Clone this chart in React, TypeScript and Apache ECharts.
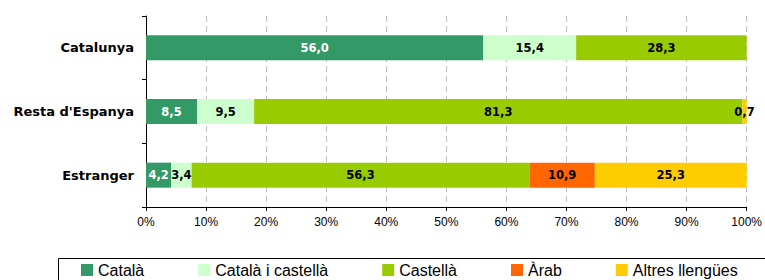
import React, { useEffect, useRef } from "react";
import * as echarts from "echarts";

const categories = ["Catalunya", "Resta d'Espanya", "Estranger"];
const seriesNames = ["Català", "Català i castellà", "Castellà", "Àrab", "Altres llengües"];
const catala = [56.0, 8.5, 4.2];
const catalaCastella = [15.4, 9.5, 3.4];
const castella = [28.3, 81.3, 56.3];
const arab = [null, null, 10.9];
const altres = [null, 0.7, 25.3];
const xTicks = [0, 10, 20, 30, 40, 50, 60, 70, 80, 90, 100];

const colors = ["#339966", "#CCFFCC", "#99CC00", "#FF6600", "#FFCC00"];
const labelColors = ["#ffffff", "#000000", "#000000", "#000000", "#000000"];

export default function App() {
  const ref = useRef<HTMLDivElement>(null);
  useEffect(() => {
    if (!ref.current) return;
    const chart = echarts.init(ref.current, undefined, { renderer: "svg" });
    const all = [catala, catalaCastella, castella, arab, altres];
    const sums = categories.map((_, i) =>
      all.reduce((s, arr) => s + (arr[i] == null ? 0 : (arr[i] as number)), 0)
    );
    const series = all.map((arr, si) => ({
      name: seriesNames[si],
      type: "bar",
      stack: "total",
      barWidth: 25,
      itemStyle: { color: colors[si] },
      label: {
        show: true,
        position: "inside",
        color: labelColors[si],
        fontFamily: "DejaVu Sans",
        fontWeight: "bold",
        fontSize: 11.5,
        formatter: (p: any) =>
          p.data && p.data.raw != null ? p.data.raw.toFixed(1).replace(".", ",") : "",
      },
      data: arr.map((v, i) =>
        v == null ? null : { value: ((v as number) / sums[i]) * 100, raw: v }
      ),
    }));
    chart.setOption({
      animation: false,
      grid: { left: 146, right: 18, top: 16, bottom: 73, containLabel: false },
      xAxis: {
        type: "value",
        min: xTicks[0],
        max: xTicks[xTicks.length - 1],
        interval: 10,
        axisLine: { show: true, lineStyle: { color: "#000", width: 1 } },
        axisTick: { show: true, length: 4, lineStyle: { color: "#000" } },
        axisLabel: {
          formatter: "{value}%",
          color: "#000",
          fontFamily: "Liberation Sans",
          fontSize: 12,
          margin: 9,
        },
        splitLine: {
          show: true,
          lineStyle: { color: "#c0c0c0", type: [6, 4], width: 1 },
        },
      },
      yAxis: {
        type: "category",
        data: categories,
        inverse: true,
        axisLine: { show: true, lineStyle: { color: "#000", width: 1 } },
        axisTick: { show: true, length: 4, lineStyle: { color: "#000" } },
        axisLabel: {
          color: "#000",
          fontFamily: "DejaVu Sans",
          fontWeight: "bold",
          fontSize: 13,
          margin: 12,
        },
      },
      legend: {
        data: seriesNames,
        left: 81,
        top: 262,
        padding: 0,
        itemWidth: 12,
        itemHeight: 12,
        itemGap: 54,
        icon: "rect",
        textStyle: { fontFamily: "Liberation Sans", fontSize: 16, color: "#000" },
      },
      graphic: [
        {
          type: "rect",
          left: 56,
          top: 256,
          shape: { width: 760, height: 40 },
          style: { fill: "none", stroke: "#000", lineWidth: 1 },
          silent: true,
        },
      ],
      series,
    });
    return () => chart.dispose();
  }, []);
  return (
    <div
      ref={ref}
      style={{ position: "absolute", left: 0, top: 0, width: 765, height: 280 }}
    />
  );
}
